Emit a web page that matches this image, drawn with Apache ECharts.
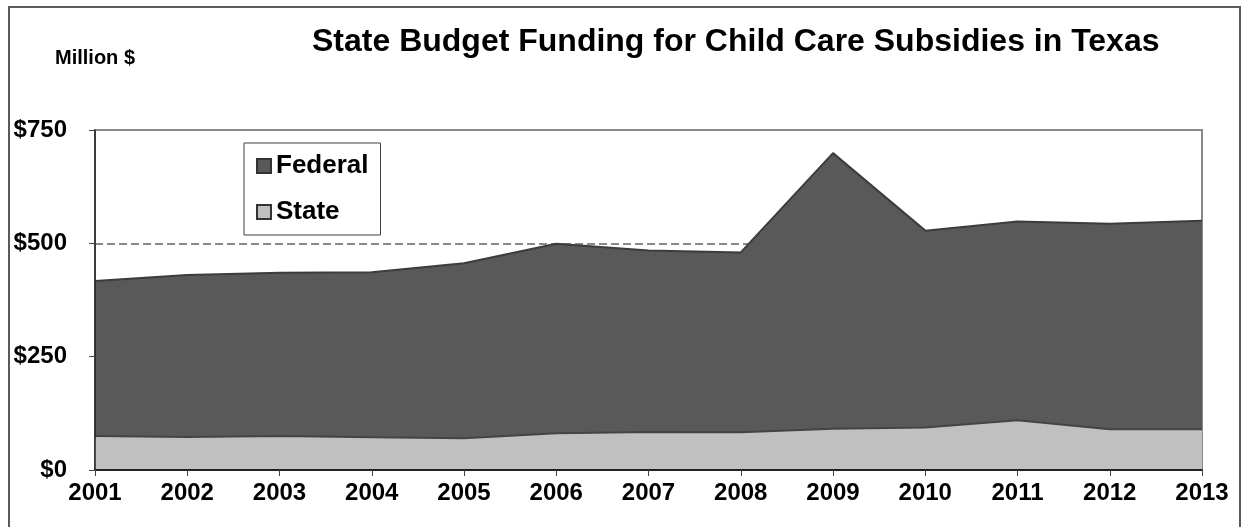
<!DOCTYPE html>
<html>
<head>
<meta charset="utf-8">
<script src="https://cdn.jsdelivr.net/npm/echarts@6/dist/echarts.min.js"></script>
<style>
  html, body { margin: 0; padding: 0; background: #fff; }
  #chart { width: 1243px; height: 527px; }
</style>
</head>
<body>
<div id="chart"></div>
<script>
// Texas child care subsidy funding, million dollars
const years = ['2001', '2002', '2003', '2004', '2005', '2006', '2007',
               '2008', '2009', '2010', '2011', '2012', '2013'];
const stateFunds   = [75, 73, 75, 72, 70, 81, 84, 83, 91, 94, 110, 90, 90];
const federalFunds = [342, 357, 360, 364, 386, 418, 400, 397, 608, 434, 438, 453, 460];
const yTicks = [0, 250, 500, 750];

const FONT = "'Liberation Sans', Arial, sans-serif";
const yMin = yTicks[0];
const yMax = yTicks[yTicks.length - 1];
const yStep = yTicks[1] - yTicks[0];

const chart = echarts.init(document.getElementById('chart'));

chart.setOption({
  animation: false,
  textStyle: { fontFamily: FONT },
  title: [
    {
      text: 'State Budget Funding for Child Care Subsidies in Texas',
      left: 307, top: 21,
      textStyle: { fontSize: 32, fontWeight: 'bold', color: '#000', fontFamily: FONT }
    },
    {
      text: 'Million $',
      left: 50, top: 43,
      textStyle: { fontSize: 20, fontWeight: 'bold', color: '#000', fontFamily: FONT }
    }
  ],
  graphic: [{
    type: 'rect',
    shape: { x: 9, y: 7, width: 1231, height: 540 },
    style: { fill: 'none', stroke: '#5a5a5a', lineWidth: 2 },
    silent: true, z: -1
  }],
  legend: {
    orient: 'vertical',
    left: 244, top: 143,
    padding: [10, 12, 10, 12],
    itemGap: 20,
    itemWidth: 14, itemHeight: 14,
    borderColor: '#404040', borderWidth: 1,
    backgroundColor: '#fff',
    textStyle: { fontSize: 26, fontWeight: 'bold', color: '#000', fontFamily: FONT },
    data: [
      { name: 'Federal', icon: 'rect', itemStyle: { borderColor: '#333', borderWidth: 2 } },
      { name: 'State', icon: 'rect', itemStyle: { borderColor: '#333', borderWidth: 2 } }
    ]
  },
  grid: {
    left: 95, right: 41, top: 130, bottom: 57,
    show: true, borderColor: '#8a8a8a', borderWidth: 2
  },
  xAxis: {
    type: 'category',
    data: years,
    boundaryGap: false,
    axisLine: { lineStyle: { color: '#222', width: 2 } },
    axisTick: { show: true, length: 6, lineStyle: { color: '#444', width: 1 } },
    axisLabel: { fontSize: 24, fontWeight: 'bold', color: '#000', margin: 11, fontFamily: FONT },
    splitLine: { show: false },
    z: 10
  },
  yAxis: [
    {
      // dashed gridlines, drawn beneath the areas
      type: 'value',
      min: yMin, max: yMax, interval: yStep,
      axisLine: { show: false },
      axisTick: { show: false },
      axisLabel: { show: false },
      splitLine: { show: true, lineStyle: { color: '#8a8a8a', width: 2, type: [8, 4] } },
      z: 0
    },
    {
      // axis line, ticks and dollar labels on top
      type: 'value',
      position: 'left',
      min: yMin, max: yMax, interval: yStep,
      axisLine: { show: true, lineStyle: { color: '#222', width: 1.5 } },
      axisTick: { show: true, length: 6, lineStyle: { color: '#444', width: 1 } },
      axisLabel: {
        fontSize: 24, fontWeight: 'bold', color: '#000', margin: 28, fontFamily: FONT,
        formatter: v => '$' + v
      },
      splitLine: { show: false },
      z: 10
    }
  ],
  series: [
    {
      name: 'State',
      type: 'line',
      stack: 'funding',
      yAxisIndex: 0,
      data: stateFunds,
      symbol: 'none',
      itemStyle: { color: '#c0c0c0' },
      lineStyle: { color: '#444', width: 2 },
      areaStyle: { color: '#c0c0c0', opacity: 1 },
      z: 3
    },
    {
      name: 'Federal',
      type: 'line',
      stack: 'funding',
      yAxisIndex: 0,
      data: federalFunds,
      symbol: 'none',
      itemStyle: { color: '#595959' },
      lineStyle: { color: '#3c3c3c', width: 2 },
      areaStyle: { color: '#595959', opacity: 1 },
      z: 2
    }
  ]
});
</script>
</body>
</html>
